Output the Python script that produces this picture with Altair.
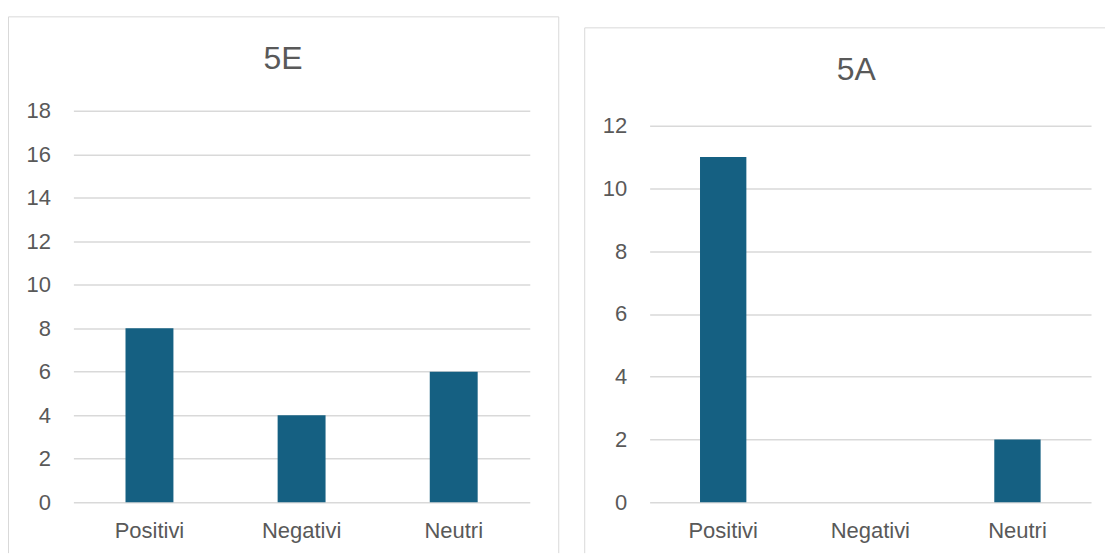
import altair as alt
import pandas as pd

categories = ["Positivi", "Negativi", "Neutri"]
values_5e = [8, 4, 6]
values_5a = [11, 0, 2]
titles = ["5E", "5A"]
y_max = [18, 12]

FONT = "Liberation Sans"
TEXT = "#595959"
GRID = "#d9d9d9"
BAR = "#156082"
one = pd.DataFrame({"k": [0]})

PLOT_H = 392


def vrule(x, y1, y2, color=GRID):
    return alt.Chart(one).mark_rule(color=color, strokeWidth=1).encode(
        x=alt.value(x), y=alt.value(y1), y2=alt.value(y2))


def hrule(x1, x2, y, color=GRID):
    return alt.Chart(one).mark_rule(color=color, strokeWidth=1).encode(
        x=alt.value(x1), x2=alt.value(x2), y=alt.value(y))


def panel(title, values, ymax, w, top_gap, title_x, title_y, frame):
    df = pd.DataFrame({"categoria": categories, "valore": values})
    bars = alt.Chart(df).mark_bar(color=BAR).encode(
        x=alt.X("categoria:N", sort=categories, title=None,
                scale=alt.Scale(paddingInner=0.685, paddingOuter=0.3425),
                axis=alt.Axis(labelAngle=0, domain=False, ticks=False,
                              labelPadding=18, labelFontSize=22,
                              labelColor=TEXT, labelFont=FONT)),
        y=alt.Y("valore:Q", title=None,
                scale=alt.Scale(domain=[0, ymax], nice=False,
                                range=[PLOT_H, top_gap]),
                axis=alt.Axis(values=list(range(0, ymax + 1, 2)), domain=False,
                              ticks=False, labelPadding=23, gridColor=GRID,
                              gridWidth=1.5, labelFontSize=22,
                              labelColor=TEXT, labelFont=FONT)),
    )
    ttl = alt.Chart(one).mark_text(
        fontSize=32, font=FONT, color=TEXT, align="center", baseline="alphabetic"
    ).encode(x=alt.value(title_x), y=alt.value(title_y), text=alt.value(title))
    return alt.layer(*frame, bars, ttl).properties(width=w, height=PLOT_H)


left = panel(titles[0], values_5e, y_max[0], 457, 0, 210, -42,
             [vrule(-65, -94, 443), vrule(486, -94, 443), hrule(-65, 486, -94)])
right = panel(titles[1], values_5a, y_max[1], 442, 15, 207, -31,
              [vrule(-65, -83, 443), hrule(-65, 456, -83)])

chart = alt.hconcat(left, right, spacing=24).properties(
    padding={"left": 7.5, "top": 15.5, "right": 0, "bottom": 0},
    background="white",
).configure_view(strokeWidth=0)

chart.save("out.html", embed_options={"renderer": "svg", "actions": False})
